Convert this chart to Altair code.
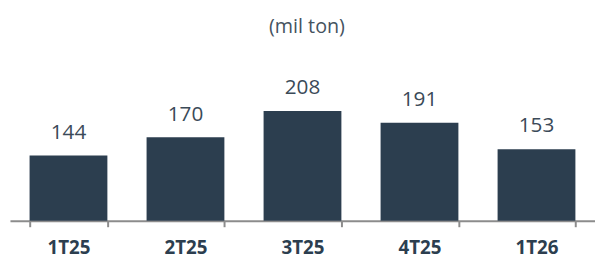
import altair as alt
import pandas as pd

quarters = ["1T25", "2T25", "3T25", "4T25", "1T26"]
values = [144, 170, 208, 191, 153]
unit_label = "(mil ton)"

df = pd.DataFrame({"q": quarters, "v": values})

BAR = "#2c3e4f"
TXT = "#3b4a58"
FONT = "Open Sans"

x_enc = alt.X(
    "q:N",
    sort=quarters,
    scale=alt.Scale(paddingInner=0.335, paddingOuter=0.1675),
    axis=alt.Axis(
        title=None,
        labelAngle=0,
        labelFont=FONT,
        labelFontSize=19,
        labelFontWeight="bold",
        labelColor=BAR,
        labelPadding=12,
        domainColor="#8c8c8c",
        domainWidth=2,
        tickColor="#8c8c8c",
        tickWidth=2,
        tickSize=6,
        tickBand="extent",
        grid=False,
    ),
)
y_enc = alt.Y(
    "v:Q",
    scale=alt.Scale(domain=[50, 250], zero=False, nice=False),
    axis=None,
)

base = alt.Chart(df)
bars = base.mark_bar(color=BAR).encode(x=x_enc, y=y_enc, y2=alt.datum(50))
labels = base.mark_text(
    dy=-17, baseline="alphabetic", fontSize=21, font=FONT, color=TXT
).encode(x=alt.X("q:N", sort=quarters), y=alt.Y("v:Q"), text=alt.Text("v:Q"))

title = alt.Chart(pd.DataFrame({"t": [unit_label]})).mark_text(
    fontSize=20, font=FONT, color="#45535f", baseline="alphabetic"
).encode(text="t:N", x=alt.value(301), y=alt.value(-49))

chart = (
    alt.layer(bars, labels, title)
    .properties(
        width=593,
        height=141,
        autosize=alt.AutoSizeParams(type="none"),
        padding={"left": 2, "top": 73, "right": 0, "bottom": 35},
    )
    .configure(background="white")
    .configure_view(strokeWidth=0, stroke="transparent")
)

chart.save("out.html", embed_options={"renderer": "svg", "actions": False})
